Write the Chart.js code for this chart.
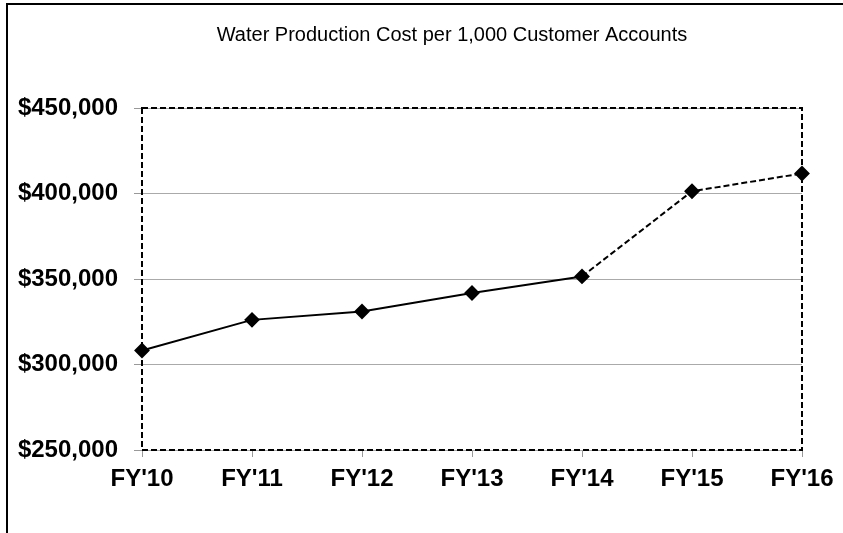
<!DOCTYPE html>
<html>
<head>
<meta charset="utf-8">
<script src="https://cdn.jsdelivr.net/npm/chart.js@4/dist/chart.umd.min.js"></script>
<style>
  html, body { margin: 0; padding: 0; background: #fff; }
  #wrap { width: 843px; height: 533px; position: relative; }
</style>
</head>
<body>
<div id="wrap"><canvas id="c" width="843" height="533"></canvas></div>
<script>
const categories = ["FY'10", "FY'11", "FY'12", "FY'13", "FY'14", "FY'15", "FY'16"];
const costValues = [308200, 326100, 331000, 341800, 351500, 401300, 411700];
const yTickValues = [250000, 300000, 350000, 400000, 450000];
const chartTitle = "Water Production Cost per 1,000 Customer Accounts";
const dashFromIndex = 4; // segments after FY'14 are projected (dashed)

const framePlugin = {
  id: 'frame',
  beforeDraw(chart) {
    const ctx = chart.ctx;
    ctx.save();
    ctx.fillStyle = '#fff';
    ctx.fillRect(0, 0, chart.width, chart.height);
    ctx.strokeStyle = '#000';
    ctx.lineWidth = 2;
    ctx.beginPath();
    ctx.moveTo(7, chart.height);
    ctx.lineTo(7, 4);
    ctx.lineTo(chart.width, 4);
    ctx.stroke();
    ctx.restore();
  },
  afterDatasetsDraw(chart) {},
  beforeDatasetsDraw(chart) {
    const a = chart.chartArea;
    const ctx = chart.ctx;
    ctx.save();
    ctx.strokeStyle = '#000';
    ctx.lineWidth = 2;
    ctx.setLineDash([6, 3]);
    ctx.strokeRect(a.left, a.top, a.right - a.left, a.bottom - a.top);
    ctx.restore();
  },
  afterDraw(chart) {
    const ctx = chart.ctx;
    ctx.save();
    ctx.fillStyle = '#000';
    ctx.font = '20px "Liberation Sans", Arial, sans-serif';
    ctx.textAlign = 'center';
    ctx.textBaseline = 'middle';
    ctx.fillText(chartTitle, 452, 35);
    ctx.restore();
  }
};

new Chart(document.getElementById('c'), {
  type: 'line',
  data: {
    labels: categories,
    datasets: [{
      data: costValues,
      borderColor: '#000',
      backgroundColor: '#000',
      borderWidth: 2,
      pointStyle: 'rectRot',
      pointRadius: 6.5,
      pointHoverRadius: 6.5,
      pointBackgroundColor: '#000',
      pointBorderColor: '#000',
      tension: 0,
      segment: {
        borderDash: ctx => ctx.p0DataIndex >= dashFromIndex ? [6, 3] : undefined
      }
    }]
  },
  options: {
    responsive: false,
    animation: false,
    devicePixelRatio: 1,
    layout: { padding: { left: 0, right: 41, top: 108, bottom: 0 } },
    plugins: { legend: { display: false }, title: { display: false }, tooltip: { enabled: false } },
    scales: {
      x: {
        offset: false,
        border: { display: false },
        grid: { drawOnChartArea: false, drawTicks: true, tickLength: 7, color: '#999', tickColor: '#999' },
        ticks: {
          color: '#000',
          padding: 8,
          maxRotation: 0,
          font: { family: '"Liberation Sans", Arial, sans-serif', size: 24, weight: 'bold' }
        },
        afterFit(scale) { scale.height = 83; }
      },
      y: {
        min: 250000,
        max: 450000,
        border: { display: false },
        grid: { color: '#aaa', lineWidth: 1, tickLength: 8, tickColor: '#999' },
        afterBuildTicks(scale) { scale.ticks = yTickValues.map(v => ({ value: v })); },
        ticks: {
          color: '#000',
          padding: 16,
          font: { family: '"Liberation Sans", Arial, sans-serif', size: 24, weight: 'bold' },
          callback: v => '$' + Number(v).toLocaleString('en-US')
        },
        afterFit(scale) { scale.width = 142; }
      }
    }
  },
  plugins: [framePlugin]
});
</script>
</body>
</html>
